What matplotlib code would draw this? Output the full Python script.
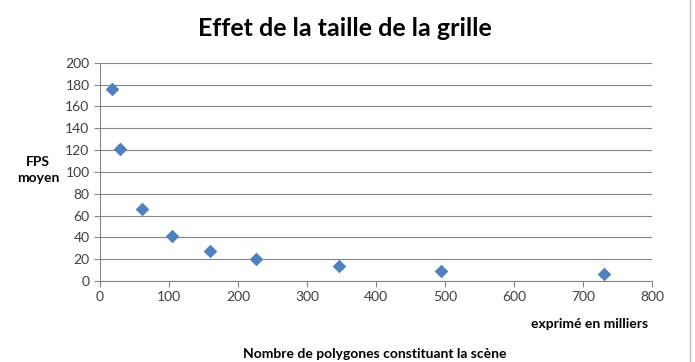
import matplotlib
matplotlib.use("Agg")
from matplotlib import pyplot as plt
from matplotlib.lines import Line2D

# polygons (thousands) vs mean FPS
polygones = [17.4, 29, 61, 104, 159, 226, 347, 494, 730]
fps = [175.7, 120.5, 66, 40.8, 27.6, 20, 13.6, 9.4, 6.6]

x_ticks = [0, 100, 200, 300, 400, 500, 600, 700, 800]
y_ticks = [0, 20, 40, 60, 80, 100, 120, 140, 160, 180, 200]

plt.rcParams["font.family"] = ["Lato", "DejaVu Sans"]

fig = plt.figure(figsize=(6.95, 3.62), dpi=100)
ax = fig.add_axes([100 / 695, 1 - 281 / 362, 552 / 695, (281 - 62.7) / 362])

ax.scatter(polygones, fps, marker="D", s=48, color="#4F81BD", zorder=3, linewidths=0)

ax.set_xlim(0, 800)
ax.set_ylim(0, 200)
ax.set_xticks(x_ticks)
ax.set_yticks(y_ticks)
ax.tick_params(labelsize=10, colors="#404040", length=4, width=0.8, direction="out")
ax.tick_params(axis="both", color="#868686")
ax.yaxis.grid(True, color="#868686", linewidth=0.8)
ax.set_axisbelow(True)

for side in ["top", "right"]:
    ax.spines[side].set_visible(False)
for side in ["left", "bottom"]:
    ax.spines[side].set_color("#868686")
    ax.spines[side].set_linewidth(0.8)

fig.text(345 / 695, 1 - 28 / 362, "Effet de la taille de la grille",
         ha="center", va="center", fontsize=18, fontweight="bold")
fig.text(38 / 695, 1 - 170 / 362, "FPS\nmoyen", ha="center", va="center",
         fontsize=10, fontweight="bold", linespacing=1.3)
fig.text(648 / 695, 1 - 324 / 362, "exprimé en milliers", ha="right", va="center",
         fontsize=10, fontweight="bold")
fig.text(375 / 695, 1 - 354 / 362, "Nombre de polygones constituant la scène",
         ha="center", va="center", fontsize=10, fontweight="bold")

fig.add_artist(Line2D([690 / 695, 690 / 695], [0, 1], color="#BFBFBF", linewidth=1))

fig.savefig("out.png", dpi=100)
plt.close(fig)
